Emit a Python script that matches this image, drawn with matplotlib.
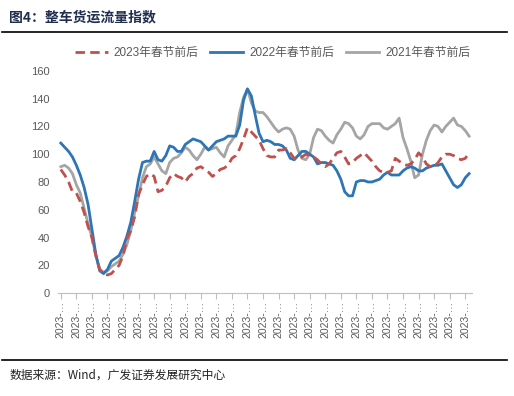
import matplotlib
matplotlib.use('Agg')
import matplotlib.pyplot as plt
from matplotlib.lines import Line2D

plt.rcParams['font.family'] = ['Liberation Sans', 'Noto Sans CJK SC', 'DejaVu Sans']

# index values, one per day
y2023 = [89, 85, 80, 73, 72, 66, 58, 48, 40, 27,
         17, 14, 13, 14, 17, 20, 27, 39, 45, 55,
         71, 78, 84, 86, 84, 73, 74, 77, 83, 86,
         84, 83, 80, 84, 86, 90, 91, 89, 87, 84,
         86, 89, 90, 92, 97, 99, 104, 111, 119, 116,
         113, 110, 104, 99, 98, 98, 103, 103, 104, 101,
         97, 96, 98, 100, 99, 98, 96, 93, 91, 93,
         97, 101, 102, 98, 93, 94, 97, 99, 101, 98,
         95, 91, 88, 87, 87, 88, 97, 95, 93, 92,
         93, 96, 101, 98, 93, 91, 91, 94, 98, 100,
         100, 99, 97, 96, 97, 101]
y2022 = [108, 105, 102, 98, 92, 85, 76, 64, 46, 28,
         16, 14, 17, 23, 25, 27, 33, 41, 51, 66,
         82, 94, 95, 95, 102, 96, 95, 99, 106, 105,
         102, 102, 107, 109, 111, 110, 109, 106, 103, 106,
         109, 110, 111, 113, 113, 113, 121, 139, 147, 142,
         128, 115, 109, 110, 109, 107, 107, 106, 103, 97,
         96, 99, 102, 102, 100, 98, 93, 94, 94, 93,
         92, 88, 82, 73, 70, 70, 80, 81, 81, 80,
         80, 81, 82, 85, 87, 85, 85, 85, 88, 90,
         91, 90, 88, 88, 90, 91, 92, 92, 93, 88,
         83, 78, 76, 78, 83, 86]
y2021 = [91, 92, 90, 86, 78, 72, 61, 50, 40, 27,
         17, 15, 16, 19, 21, 23, 28, 35, 45, 58,
         70, 83, 91, 93, 98, 93, 88, 86, 94, 97,
         98, 101, 105, 103, 99, 96, 100, 105, 103, 104,
         105, 101, 98, 106, 110, 114, 130, 141, 147, 137,
         131, 130, 130, 127, 123, 119, 116, 118, 119, 118,
         113, 103, 97, 96, 100, 112, 118, 117, 113, 110,
         108, 114, 118, 123, 122, 119, 113, 111, 114, 120,
         122, 122, 122, 119, 118, 120, 122, 126, 112, 104,
         95, 83, 85, 100, 110, 117, 121, 120, 116, 120,
         123, 126, 121, 120, 117, 113]
names = ['2023年春节前后', '2022年春节前后', '2021年春节前后']
tick_text = '2023-…'

x = list(range(len(y2023)))

fig = plt.figure(figsize=(5.14, 3.96), dpi=100)
ax = fig.add_axes([0.113, 0.260, 0.805, 0.561])

ax.plot(x, y2023, color='#C0504D', lw=2.0, dashes=(3.4, 1.9), label=names[0], zorder=3)
ax.plot(x, y2022, color='#2E75B6', lw=2.0, label=names[1], zorder=2)
ax.plot(x, y2021, color='#A5A5A5', lw=2.0, label=names[2], zorder=1)

ax.set_xlim(-0.7, 105.7)
ax.set_ylim(0, 160)
ax.set_yticks(range(0, 161, 20))
ticks = list(range(0, len(x), 4))
ax.set_xticks(ticks)
ax.set_xticklabels([tick_text] * len(ticks), rotation=90, fontsize=7.5, color='#595959')
ax.tick_params(axis='y', length=0, labelsize=8, labelcolor='#595959', pad=6)
ax.tick_params(axis='x', length=4, color='#BFBFBF', pad=2)
for s in ['top', 'right', 'left']:
    ax.spines[s].set_visible(False)
ax.spines['bottom'].set_color('#BFBFBF')

fig.legend(loc='center', bbox_to_anchor=(0.53, 0.866), ncol=3, frameon=False,
           fontsize=8.5, handlelength=2.8, columnspacing=1.0, handletextpad=0.5,
           labelcolor='#595959')

fig.text(0.018, 0.955, '图4：整车货运流量指数', fontsize=10, fontweight='bold',
         color='#1F2D4E', va='center', family=['Noto Sans CJK SC', 'DejaVu Sans'])
fig.add_artist(Line2D([0.004, 0.986], [0.919, 0.919], color='black', lw=1.2))
fig.add_artist(Line2D([0.004, 0.986], [0.091, 0.091], color='black', lw=1.2))
fig.text(0.018, 0.053, '数据来源：Wind，广发证券发展研究中心', fontsize=8.5,
         color='#222222', va='center', family=['Noto Sans CJK SC', 'DejaVu Sans'])

fig.savefig('out.png', dpi=100)
